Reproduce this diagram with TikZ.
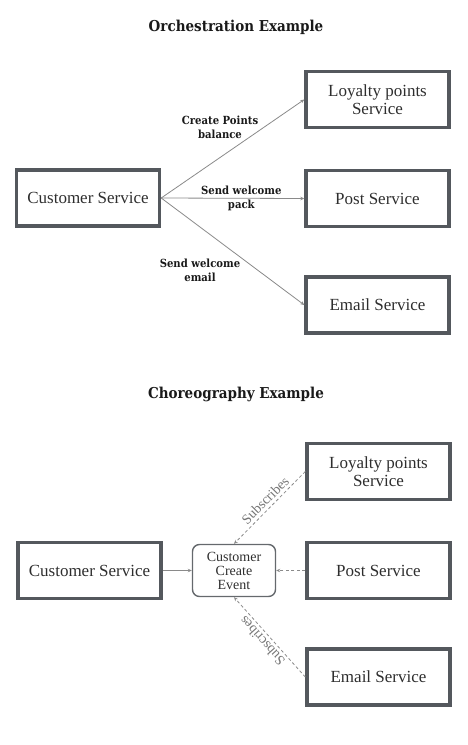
\documentclass[tikz,border=0pt]{standalone}
\usepackage{fontspec}
\setmainfont{Liberation Serif}
\newfontfamily\labelfont{DejaVu Serif Condensed}
\usetikzlibrary{positioning,arrows.meta}

\definecolor{boxgray}{HTML}{54585D}
\definecolor{linegray}{HTML}{8A8A8A}
\definecolor{txtgray}{HTML}{2E2E2E}

\tikzset{
  service/.style={draw=boxgray,line width=3.4pt,minimum width=143pt,minimum height=56pt,
    align=center,text=txtgray,font=\fontsize{17}{18}\selectfont,inner sep=2pt},
  eventbox/.style={draw=boxgray!90,line width=1.4pt,rounded corners=7pt,minimum width=83pt,
    minimum height=52pt,align=center,text=txtgray,font=\fontsize{14}{14}\selectfont,inner sep=1pt},
  title/.style={font=\labelfont\bfseries\fontsize{15}{17}\selectfont,text=black!90},
  edgelabel/.style={font=\labelfont\bfseries\fontsize{11.2}{14}\selectfont,align=center,text=black!90},
  sublabel/.style={font=\fontsize{14}{15}\selectfont,text=linegray!85!black,inner sep=2pt},
  flow/.style={draw=linegray,line width=0.8pt,-{Stealth[length=4pt,width=3.5pt]}},
  subflow/.style={flow,dash pattern=on 3pt off 2.5pt}
}

\begin{document}
\begin{tikzpicture}[x=1pt,y=-1pt]
  \useasboundingbox (0,0) rectangle (467,745);

  % orchestration
  \node[title] (orchtitle) at (236,27) {Orchestration Example};
  \node[service] (ocust) at (88,198) {Customer Service};
  \node[service] (oloyal) at (377.5,99.5) {Loyalty points\\Service};
  \node[service] (opost) at (377.5,198.5) {Post Service};
  \node[service] (oemail) at (377.5,305) {Email Service};
  \draw[flow] (ocust.east) -- (oloyal.west);
  \draw[flow] (ocust.east) -- node[edgelabel,pos=0.56] {Send welcome\\pack} (opost.west);
  \draw[flow] (ocust.east) -- (oemail.west);
  \node[edgelabel] (lblpoints) at (220,127) {Create Points\\balance};
  \node[edgelabel] (lblemail) at (200,270) {Send welcome\\email};

  % choreography
  \node[title] (choretitle) at (236,394) {Choreography Example};
  \node[service] (ccust) at (89.5,570.5) {Customer Service};
  \node[eventbox] (cevent) at (234,570.5) {Customer\\Create\\Event};
  \node[service] (cloyal) at (378.5,471.5) {Loyalty points\\Service};
  \node[service] (cpost) at (378.5,570.5) {Post Service};
  \node[service] (cemail) at (378.5,677) {Email Service};
  \draw[flow] (ccust.east) -- (cevent.west);
  \draw[subflow] (cpost.west) -- (cevent.east);
  \draw[subflow] (cloyal.west) -- node[sublabel,sloped,above=1pt,pos=0.48] {Subscribes} (cevent.north);
  \draw[subflow] (cemail.west) -- node[sublabel,sloped,above=1pt,pos=0.52,allow upside down] {Subscribes} (cevent.south);
\end{tikzpicture}
\end{document}
